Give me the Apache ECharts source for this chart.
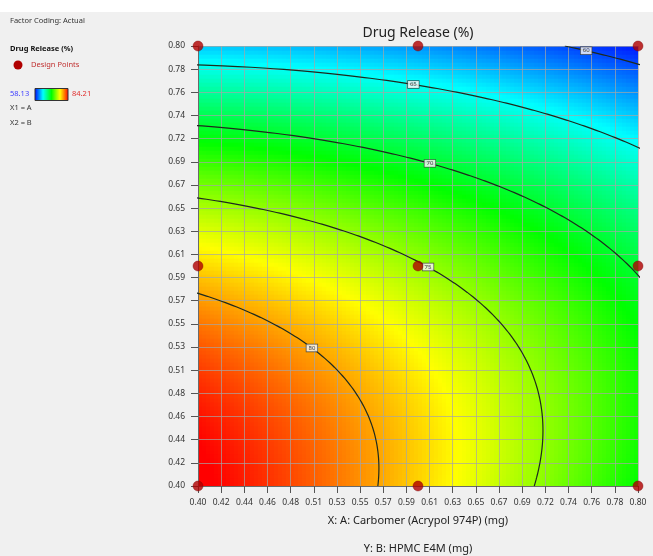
<!DOCTYPE html>
<html><head><meta charset="utf-8">
<script src="https://cdn.jsdelivr.net/npm/echarts@6/dist/echarts.min.js"></script>
<style>html,body{margin:0;padding:0;background:#f0f0f0;}#c{width:653px;height:556px;}</style>
</head><body><div id="c"></div>
<script>
// ---- data ----
const tickLabels = ['0.40','0.42','0.44','0.46','0.48','0.51','0.53','0.55','0.57','0.59','0.61','0.63','0.65','0.67','0.69','0.72','0.74','0.76','0.78','0.80'];
const designA = [0.4, 0.6, 0.8];   // Carbomer levels (mg)
const designB = [0.4, 0.6, 0.8];   // HPMC E4M levels (mg)
// quadratic response-surface model in coded factors
const modelTerms = ['Intercept', 'A', 'B', 'AB', 'A^2', 'B^2'];
const modelCoefficients = [75.17, -4.50, -8.435, 2.215, -0.92, -4.80];
const factorCenter = 0.6;
const factorHalfRange = 0.2;
const contourLevels = [60, 65, 70, 75, 80];
const contourLabelB = [0.7957, 0.765, 0.6933, 0.5991, 0.5255];
const colorRange = [58.13, 84.21];
const colorStops = ['#0000ff', '#00ffff', '#00ff00', '#ffff00', '#ff0000'];
const axisMin = 0.4, axisMax = 0.8;

// ---- helpers ----
const steps = tickLabels.length - 1;
function toAxis(v) { return (v - axisMin) / (axisMax - axisMin) * steps; }
function fromCoded(c) { return factorCenter + factorHalfRange * c; }
function toCoded(v) { return (v - factorCenter) / factorHalfRange; }
function model(a, b) {
  const c = modelCoefficients;
  return c[0] + c[1]*a + c[2]*b + c[3]*a*b + c[4]*a*a + c[5]*b*b;
}
function solveA(b, level) {
  const c = modelCoefficients;
  const qa = c[4], qb = c[1] + c[3]*b, qc = c[0] + c[2]*b + c[5]*b*b - level;
  if (Math.abs(qa) < 1e-12) return -qc / qb;
  const D = qb*qb - 4*qa*qc;
  if (D < 0) return null;
  const s = Math.sqrt(D);
  return Math.max((-qb + s) / (2*qa), (-qb - s) / (2*qa));
}

// surface cells
const N = 110;
const half = steps / N / 2;
const surface = [];
for (let i = 0; i < N; i++) {
  for (let j = 0; j < N; j++) {
    const a = -1 + (i + 0.5) * 2 / N;
    const b = -1 + (j + 0.5) * 2 / N;
    surface.push([toAxis(fromCoded(a)), toAxis(fromCoded(b)), model(a, b)]);
  }
}
// contour lines
const contourSeries = contourLevels.map(function (level) {
  const pts = [];
  const M = 600;
  for (let k = 0; k <= M; k++) {
    const b = -1 + 2 * k / M;
    const a = solveA(b, level);
    if (a === null || a < -1.3 || a > 1.3) continue;
    pts.push([toAxis(fromCoded(a)), toAxis(fromCoded(b))]);
  }
  return {
    type: 'line', data: pts, showSymbol: false, symbol: 'none', clip: true, z: 10,
    lineStyle: { color: '#1e2a1e', width: 1.2 }, silent: true, animation: false
  };
});
const labelData = contourLevels.map(function (level, i) {
  const b = toCoded(contourLabelB[i]);
  const a = solveA(b, level);
  return [toAxis(fromCoded(a)), toAxis(contourLabelB[i]), level];
});
const designData = [];
designA.forEach(function (x) { designB.forEach(function (y) { designData.push([toAxis(x), toAxis(y)]); }); });

const font = 'Noto Sans';
const axisCommon = {
  type: 'value', min: 0, max: steps, interval: 1, z: 5,
  axisLine: { show: true, lineStyle: { color: '#6a6a6a', width: 1 } },
  axisTick: { show: true, length: 7, lineStyle: { color: '#555' } },
  axisLabel: { fontFamily: font, fontSize: 8.5, color: '#333', margin: 12, hideOverlap: false,
    formatter: function (v) { return tickLabels[Math.round(v)]; } },
  splitLine: { show: true, showMinLine: true, showMaxLine: true, lineStyle: { color: 'rgba(165,165,165,0.7)', width: 1 } }
};

const chart = echarts.init(document.getElementById('c'), null, { renderer: 'canvas' });
chart.setOption({
  backgroundColor: '#f0f0f0',
  animation: false,
  grid: { left: 198, right: 15, top: 46, bottom: 70, outerBoundsMode: 'none', containLabel: false },
  xAxis: Object.assign({}, axisCommon, { axisLabel: Object.assign({}, axisCommon.axisLabel, { margin: 12 }) }),
  yAxis: Object.assign({}, axisCommon, { axisLabel: Object.assign({}, axisCommon.axisLabel, { margin: 13 }) }),
  visualMap: { show: false, type: 'continuous', min: colorRange[0], max: colorRange[1], dimension: 2, seriesIndex: 0,
    inRange: { color: colorStops } },
  series: [
    {
      type: 'custom', data: surface, encode: { x: 0, y: 1 }, clip: true, z: 2, silent: true, progressive: 0,
      renderItem: function (params, api) {
        const x = api.value(0), y = api.value(1);
        const p0 = api.coord([x - half, y + half]);
        const p1 = api.coord([x + half, y - half]);
        return { type: 'rect', shape: { x: p0[0], y: p0[1], width: p1[0] - p0[0] + 0.7, height: p1[1] - p0[1] + 0.7 },
          style: { fill: api.visual('color') } };
      }
    }
  ].concat(contourSeries).concat([
    {
      type: 'scatter', data: labelData, symbolSize: 0, z: 12, silent: true,
      label: { show: true, position: 'inside', formatter: function (p) { return String(p.value[2]); },
        fontFamily: font, fontSize: 6, color: '#111', backgroundColor: '#ffffff', borderColor: '#333',
        borderWidth: 0.7, padding: [1, 2, 0, 2] }
    },
    {
      type: 'scatter', data: designData, symbol: 'circle', symbolSize: 10, z: 15, clip: false,
      itemStyle: { color: '#b00000', borderColor: '#7a0000', borderWidth: 0.5 }
    }
  ]),
  graphic: [
    { type: 'rect', shape: { x: 0, y: 0, width: 653, height: 12 }, style: { fill: '#ffffff' }, z: 0 },
    { type: 'text', x: 10, y: 21, style: { text: 'Factor Coding: Actual', font: '7.5px "Noto Sans"', fill: '#333', verticalAlign: 'middle' } },
    { type: 'text', x: 10, y: 49, style: { text: 'Drug Release (%)', font: 'bold 7.5px "Noto Sans"', fill: '#111', verticalAlign: 'middle' } },
    { type: 'circle', shape: { cx: 18, cy: 65, r: 4.5 }, style: { fill: '#b00000' } },
    { type: 'text', x: 31, y: 65, style: { text: 'Design Points', font: '7.5px "Noto Sans"', fill: '#c03030', verticalAlign: 'middle' } },
    { type: 'text', x: 10, y: 94, style: { text: String(colorRange[0]), font: '7.5px "Noto Sans"', fill: '#4040ff', verticalAlign: 'middle' } },
    { type: 'rect', shape: { x: 35, y: 88.5, width: 33, height: 12 },
      style: { stroke: '#333', lineWidth: 1, fill: new echarts.graphic.LinearGradient(0, 0, 1, 0,
        colorStops.map(function (c, i) { return { offset: i / (colorStops.length - 1), color: c }; })) } },
    { type: 'text', x: 72, y: 94, style: { text: String(colorRange[1]), font: '7.5px "Noto Sans"', fill: '#e03030', verticalAlign: 'middle' } },
    { type: 'text', x: 10, y: 108, style: { text: 'X1 = A', font: '7.5px "Noto Sans"', fill: '#333', verticalAlign: 'middle' } },
    { type: 'text', x: 10, y: 123, style: { text: 'X2 = B', font: '7.5px "Noto Sans"', fill: '#333', verticalAlign: 'middle' } },
    { type: 'text', x: 418, y: 33, style: { text: 'Drug Release (%)', font: '14px "Noto Sans"', fill: '#222', align: 'center', verticalAlign: 'middle' } },
    { type: 'text', x: 418, y: 521, style: { text: 'X: A: Carbomer (Acrypol 974P) (mg)', font: '11px "Noto Sans"', fill: '#222', align: 'center', verticalAlign: 'middle' } },
    { type: 'text', x: 418, y: 549, style: { text: 'Y: B: HPMC E4M (mg)', font: '11px "Noto Sans"', fill: '#222', align: 'center', verticalAlign: 'middle' } }
  ]
});
</script>
</body></html>
